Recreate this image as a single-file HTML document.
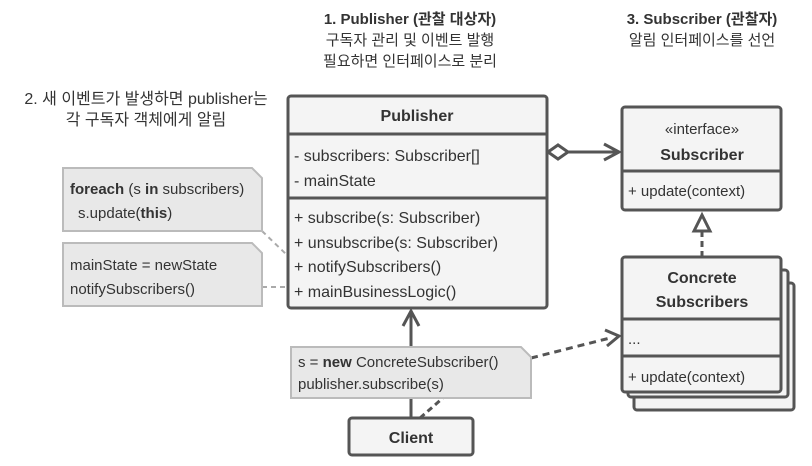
<!DOCTYPE html>
<html><head><meta charset="utf-8"><style>
body{margin:0;background:#fff}
text{font-family:"Liberation Sans","Noto Sans CJK KR",sans-serif;fill:#333}
</style></head><body>
<svg width="812" height="461" viewBox="0 0 812 461" xmlns="http://www.w3.org/2000/svg">
<g font-size="15" text-anchor="middle">
<text x="410" y="24" font-size="15"><tspan font-weight="bold">1. Publisher (관찰 대상자)</tspan></text>
<text x="410" y="45">구독자 관리 및 이벤트 발행</text>
<text x="410" y="66">필요하면 인터페이스로 분리</text>
<text x="702" y="24" font-size="15" font-weight="bold">3. Subscriber (관찰자)</text>
<text x="702" y="45">알림 인터페이스를 선언</text>
<text x="146" y="104" font-size="16">2. 새 이벤트가 발생하면 publisher는</text>
<text x="146" y="125" font-size="16">각 구독자 객체에게 알림</text>
</g>
<g stroke="#aaa" stroke-width="2" stroke-dasharray="5,4" fill="none">
<path d="M262 231 L288 256"/>
<path d="M262 287 L288 287"/>
</g>
<g fill="#e8e8e8" stroke="#bbb" stroke-width="2">
<path d="M63 168 H252 L262 178 V231 H63 Z"/>
<path d="M63 243 H252 L262 253 V306 H63 Z"/>
</g>
<g font-size="15">
<text x="70" y="194"><tspan font-weight="bold">foreach</tspan> (s <tspan font-weight="bold">in</tspan> subscribers)</text>
<text x="78" y="218">s.update(<tspan font-weight="bold">this</tspan>)</text>
<text x="70" y="270">mainState = newState</text>
<text x="70" y="294">notifySubscribers()</text>
</g>
<g stroke="#555" stroke-width="3" fill="#f4f4f4">
<rect x="288" y="96" width="259" height="212" rx="3"/>
<line x1="288" y1="134" x2="547" y2="134"/>
<line x1="288" y1="198" x2="547" y2="198"/>
<rect x="622" y="107" width="159" height="103" rx="3"/>
<line x1="622" y1="171" x2="781" y2="171"/>
<rect x="634" y="283" width="160" height="127" rx="3"/>
<rect x="628" y="270" width="160" height="127" rx="3"/>
<rect x="622" y="257" width="159" height="135" rx="3"/>
<line x1="622" y1="319" x2="781" y2="319"/>
<line x1="622" y1="356" x2="781" y2="356"/>
<rect x="349" y="418" width="124" height="37" rx="3"/>
</g>
<g stroke="#555" stroke-width="3" fill="none">
<path d="M568 152 H618 M604 144 L619 152 L604 160"/>
<path d="M548 152 L558 145 L568 152 L558 159 Z" fill="#fff"/>
<line x1="411" y1="418" x2="411" y2="312"/>
<path d="M403 326 L411 311 L419 326"/>
<path d="M702 257 V232" stroke-dasharray="6,4"/>
<path d="M694 231 L702 215 L710 231 Z" fill="#fff"/>
<path d="M531 358 L610 338" stroke-dasharray="7,5"/>
<path d="M605 330 L619 336 L607 346"/>
<path d="M420 418 L444 397" stroke-dasharray="6,4"/>
</g>
<path d="M291 347 H521 L531 357 V398 H291 Z" fill="#e8e8e8" stroke="#bbb" stroke-width="2"/>
<g font-size="15">
<text x="298" y="367">s = <tspan font-weight="bold">new</tspan> ConcreteSubscriber()</text>
<text x="298" y="389">publisher.subscribe(s)</text>
</g>
<g font-size="16" text-anchor="middle" font-weight="bold">
<text x="417" y="121">Publisher</text>
<text x="702" y="160">Subscriber</text>
<text x="702" y="283">Concrete</text>
<text x="702" y="307">Subscribers</text>
<text x="411" y="443">Client</text>
</g>
<g font-size="16">
<text x="702" y="134" text-anchor="middle" font-size="15">«interface»</text>
<text x="294" y="161">- subscribers: Subscriber[]</text>
<text x="294" y="186">- mainState</text>
<text x="294" y="223">+ subscribe(s: Subscriber)</text>
<text x="294" y="248">+ unsubscribe(s: Subscriber)</text>
<text x="294" y="272">+ notifySubscribers()</text>
<text x="294" y="297">+ mainBusinessLogic()</text>
<text x="628" y="196" font-size="15">+ update(context)</text>
<text x="628" y="344" font-size="15">...</text>
<text x="628" y="382" font-size="15">+ update(context)</text>
</g>
</svg>
</body></html>
